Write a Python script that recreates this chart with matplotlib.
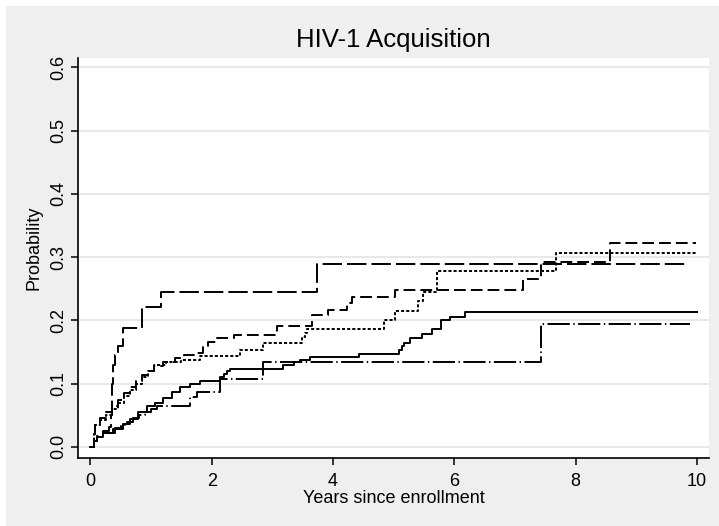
import matplotlib
matplotlib.use("Agg")
import matplotlib.pyplot as plt
from matplotlib.patches import Rectangle

plt.rcParams['font.family'] = ['Liberation Sans', 'DejaVu Sans']
plt.rcParams['lines.scale_dashes'] = False

# step curves: time of each step and cumulative probability after it
long_t = [0, 0.05, 0.1, 0.2, 0.3, 0.34, 0.36, 0.37, 0.4, 0.45, 0.53, 0.85, 1.17, 3.73, 9.84]
long_p = [0, 0.01, 0.018, 0.025, 0.032, 0.05, 0.1, 0.13, 0.145, 0.16, 0.188, 0.222, 0.245, 0.289, 0.289]

dash_t = [0, 0.05, 0.08, 0.15, 0.25, 0.35, 0.45, 0.55, 0.65, 0.75, 0.85, 0.95, 1.05, 1.2,
          1.4, 1.55, 1.7, 1.86, 1.94, 2.08, 2.36, 3.07, 3.65, 3.92, 4.23, 4.31, 5.02,
          7.14, 7.43, 8.57, 9.99]
dash_p = [0, 0.02, 0.035, 0.045, 0.055, 0.065, 0.075, 0.085, 0.095, 0.105, 0.113, 0.12, 0.128, 0.135,
          0.14, 0.145, 0.148, 0.158, 0.166, 0.172, 0.177, 0.191, 0.208, 0.217, 0.228, 0.237, 0.248,
          0.265, 0.293, 0.322, 0.322]

short_t = [0, 0.05, 0.08, 0.15, 0.25, 0.35, 0.45, 0.55, 0.65, 0.75, 0.85, 0.95, 1.05, 1.25,
           1.5, 1.81, 2.47, 2.85, 3.48, 3.54, 3.57, 4.84, 5.02, 5.40, 5.49, 5.71, 7.68, 9.99]
short_p = [0, 0.02, 0.035, 0.042, 0.05, 0.06, 0.07, 0.08, 0.09, 0.1, 0.11, 0.12, 0.13, 0.135,
           0.138, 0.143, 0.154, 0.164, 0.174, 0.18, 0.186, 0.2, 0.215, 0.23, 0.245, 0.278, 0.307, 0.307]

solid_t = [0, 0.05, 0.1, 0.2, 0.37, 0.54, 0.65, 0.78, 0.93, 1.06, 1.2, 1.34, 1.48, 1.64, 1.81,
           2.14, 2.2, 2.25, 2.3, 3.18, 3.35, 3.45, 3.62, 4.42, 5.08, 5.13, 5.17, 5.27, 5.46,
           5.63, 5.78, 5.93, 6.18, 10.0]
solid_p = [0, 0.01, 0.016, 0.022, 0.028, 0.036, 0.044, 0.055, 0.065, 0.07, 0.078, 0.087, 0.094, 0.1, 0.105,
           0.11, 0.115, 0.12, 0.124, 0.13, 0.135, 0.138, 0.142, 0.147, 0.153, 0.16, 0.164, 0.172, 0.178,
           0.186, 0.2, 0.206, 0.214, 0.214]

dashdot_t = [0, 0.05, 0.1, 0.2, 0.4, 0.5, 0.6, 0.7, 0.8, 0.9, 1.0, 1.1, 1.64, 1.75, 2.14, 2.85, 7.43, 9.88]
dashdot_p = [0, 0.01, 0.015, 0.022, 0.03, 0.035, 0.04, 0.045, 0.05, 0.055, 0.06, 0.064, 0.079, 0.087,
             0.107, 0.134, 0.195, 0.195]

xticks = [0, 2, 4, 6, 8, 10]
yticks = [0.0, 0.1, 0.2, 0.3, 0.4, 0.5, 0.6]

W, H = 719, 526
fig = plt.figure(figsize=(W / 100, H / 100), dpi=100, facecolor='white')
fig.patches.append(Rectangle((6 / W, 0), 1 - 6 / W, 1 - 6 / H, transform=fig.transFigure,
                             facecolor='#efefef', edgecolor='none', zorder=-10))
ax = fig.add_axes([78 / W, 1 - 458 / H, (709 - 78) / W, 400 / H])
ax.set_facecolor('white')

lw = 1.4
ax.step(long_t, long_p, where='post', color='black', lw=lw, dashes=(14, 3.6))
ax.step(dash_t, dash_p, where='post', color='black', lw=lw, dashes=(8.5, 3.6))
ax.step(short_t, short_p, where='post', color='black', lw=lw, dashes=(2.2, 1.5))
ax.step(solid_t, solid_p, where='post', color='black', lw=lw)
ax.step(dashdot_t, dashdot_p, where='post', color='black', lw=lw, dashes=(16, 2.5, 1, 2.5))

ax.set_xlim(-0.206, 10.2)
ax.set_ylim(-0.0175, 0.615)
ax.set_xticks(xticks)
ax.set_yticks(yticks)
ax.set_yticklabels(['%.1f' % v for v in yticks], rotation=90, va='center')
ax.yaxis.grid(True, color='#e8e8e8', lw=1.5)
ax.set_axisbelow(True)
for s in ['top', 'right']:
    ax.spines[s].set_visible(False)
for s in ['left', 'bottom']:
    ax.spines[s].set_linewidth(1.2)
ax.tick_params(axis='both', direction='out', length=5, width=1.1, labelsize=13)
ax.tick_params(axis='x', pad=6)
ax.tick_params(axis='y', pad=3)

ax.set_xlabel('Years since enrollment', fontsize=13, labelpad=0)
ax.set_ylabel('Probability', fontsize=13)
ax.yaxis.set_label_coords(-0.056, 0.525)
fig.text(393 / W, 1 - 40 / H, 'HIV-1 Acquisition', ha='center', va='center', fontsize=18.5)

fig.savefig('out.png', dpi=100, facecolor=fig.get_facecolor())
